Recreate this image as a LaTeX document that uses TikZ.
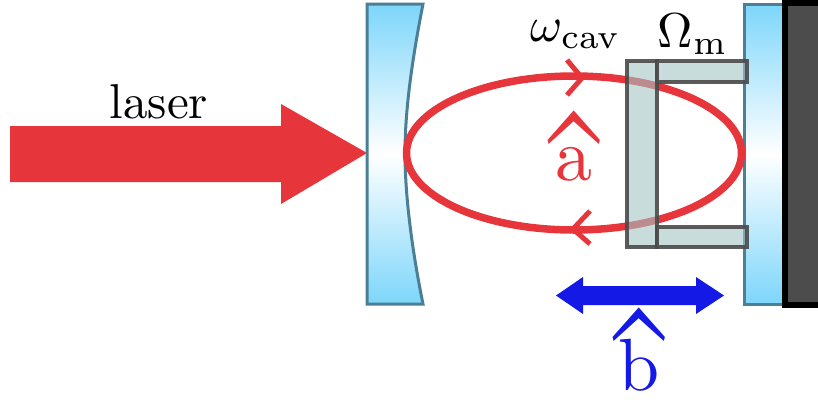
\documentclass[tikz,border=0pt]{standalone}
\usepackage{graphicx}
\definecolor{cavred}{HTML}{E6353B}
\definecolor{phblue}{HTML}{1519E6}
\definecolor{mirsky}{HTML}{7DD6FA}
\definecolor{mirline}{HTML}{4A7F95}
\definecolor{memfill}{HTML}{A3C5C5}
\definecolor{memline}{HTML}{4A4A4A}
\newcommand{\bighat}[2]{\setbox0=\hbox{#2}\makebox[0pt][l]{\makebox[\wd0]{\raisebox{#1}{\scalebox{1.25}[2.5]{\^{}}}}}\box0}
\tikzset{
  mirror/.style={draw=mirline,line width=3pt,line join=miter,top color=mirsky,bottom color=mirsky,middle color=white},
  membrane/.style={draw=memline,draw opacity=.9,line width=3.5pt,fill=memfill,fill opacity=.6},
  chevron/.style={draw=cavred,line width=5pt},
  bigtext/.style={inner sep=0pt,anchor=base,scale=4.9},
  hugetext/.style={inner sep=0pt,anchor=base,scale=7.4}
}
\begin{document}
\begin{tikzpicture}[x=1pt,y=-1pt]
\useasboundingbox (0,0) rectangle (818,399);
% laser beam
\fill[cavred] (10,126) -- (281,126) -- (281,104) -- (367,153) -- (281,204) -- (281,182) -- (10,182) -- cycle;
% input mirror
\path[mirror] (367,4) -- (423,4) .. controls (412,60) and (405,110) .. (405,153)
  .. controls (405,196) and (412,250) .. (423,304) -- (367,304) -- cycle;
% end mirror and support
\path[mirror] (744,4) rectangle (784,304);
\fill[black] (782,0) rectangle (818,308);
\fill[black!70] (788,6) rectangle (818,302);
% cavity mode
\draw[cavred,line width=7.5pt] (574,153) ellipse [x radius=167.5, y radius=77];
\draw[chevron] (567,60) -- (582,78) -- (567,95);
\draw[chevron] (590,211) -- (573,229) -- (590,244);
% mechanical element
\path[membrane] (627,61) rectangle (657,247);
\path[membrane] (657,61) rectangle (747,82);
\path[membrane] (657,227) rectangle (747,247);
% phonon arrow
\fill[phblue] (556,295.5) -- (583,277) -- (583,286) -- (696,286) -- (696,277) -- (724,295.5) -- (696,314) -- (696,305) -- (583,305) -- (583,314) -- cycle;
% labels
\node[bigtext] (laser) at (159,118) {laser};
\node[bigtext,anchor=base west] (wcav) at (530,41) {$\omega_{\mathrm{cav}}$};
\node[bigtext,anchor=base west] (omm) at (657,47) {$\Omega_{\mathrm{m}}$};
\node[hugetext,text=cavred] (ahat) at (574,180) {\bighat{-9.3pt}{a}};
\node[hugetext,text=phblue] (bhat) at (639,390) {\bighat{-7.5pt}{b}};
\end{tikzpicture}
\end{document}
